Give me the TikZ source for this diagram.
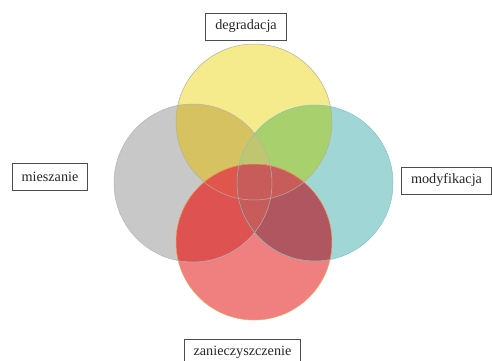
\documentclass[tikz,border=0pt]{standalone}
\usepackage{fontspec}
\setmainfont{Liberation Serif}
\definecolor{cG}{RGB}{200,200,200}
\definecolor{cT}{RGB}{160,214,214}
\definecolor{cY}{RGB}{245,234,140}
\definecolor{cR}{RGB}{240,128,128}
\definecolor{cYG}{RGB}{214,194,96}
\definecolor{cYT}{RGB}{168,208,108}
\definecolor{cYGT}{RGB}{192,198,112}
\definecolor{cRG}{RGB}{222,82,82}
\definecolor{cRY}{RGB}{224,86,76}
\definecolor{cRT}{RGB}{176,86,96}
\definecolor{cRTX}{RGB}{200,92,90}
\definecolor{oG}{RGB}{180,180,180}
\definecolor{oT}{RGB}{130,195,195}
\definecolor{oY}{RGB}{180,175,150}
\definecolor{oR}{RGB}{235,165,90}
\begin{document}
\begin{tikzpicture}[x=1pt,y=-1pt,
  lbl/.style={draw=black!70,line width=0.8pt,fill=white,inner xsep=9.5pt,inner ysep=0pt,minimum height=27pt,font=\fontsize{14.2}{16}\selectfont,text=black!85},
  rim/.style={line width=0.5pt}]
\useasboundingbox (0,0) rectangle (492,360);
\def\cg{(193,183) circle (79)}
\def\ct{(315,183) circle (78)}
\def\cy{(254,122) circle (78)}
\def\cred{(254,242) circle (78)}
% single circles
\fill[cG] \cg;
\fill[cT] \ct;
\fill[cY] \cy;
% yellow overlaps
\begin{scope}
  \clip \cy;
  \fill[cYG] \cg;
  \fill[cYT] \ct;
  \clip \cg;
  \fill[cYGT] \ct;
\end{scope}
% red and its overlaps
\fill[cR] \cred;
\begin{scope}
  \clip \cred;
  \fill[cRG] \cg;
  \fill[cRY] \cy;
  \fill[cRT] \ct;
  \clip \ct;
  \fill[cRTX] \cg;
  \fill[cRTX] \cy;
\end{scope}
% outlines
\draw[rim,oG] \cg;
\draw[rim,oT] \ct;
\draw[rim,oY] \cy;
\draw[rim,oR] \cred;
\node[lbl] (deg) at (246,26.5) {degradacja};
\node[lbl] (mie) at (50,177) {mieszanie};
\node[lbl] (mod) at (446.5,180.5) {modyfikacja};
\node[lbl] (zan) at (242.5,352.5) {zanieczyszczenie};
\end{tikzpicture}
\end{document}
